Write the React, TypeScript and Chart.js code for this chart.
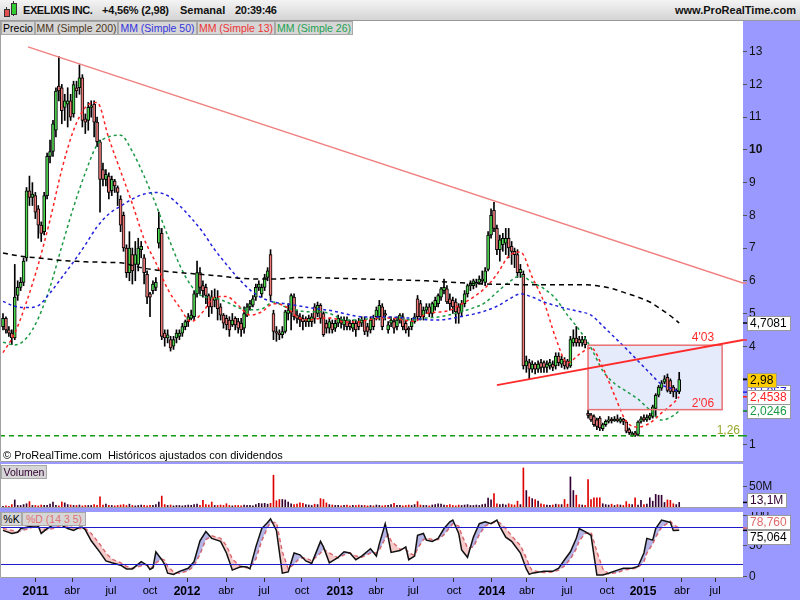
import React, { useEffect, useRef } from 'react';
import { Chart, registerables } from 'chart.js';
Chart.register(...registerables);

const FONT = 'Arial, "Liberation Sans", Helvetica, sans-serif';

// weekly candles [open, high, low, close], week 0 = mid Oct 2010
const candles: number[][] = [
  [4.6,5.0,4.5,4.85],[4.85,4.9,4.4,4.5],[4.5,4.6,4.3,4.4],[4.4,4.5,4.05,4.25],[4.25,6.5,4.2,5.5],
  [5.55,6.0,5.4,5.8],[5.8,6.1,5.7,5.95],[5.95,6.7,5.85,6.6],[6.7,8.85,6.6,8.75],[8.75,9.2,8.3,8.55],
  [8.55,9.0,8.3,8.65],[8.6,8.7,7.9,8.1],[8.2,8.3,7.3,7.7],[7.7,7.8,7.2,7.45],[7.5,8.7,7.4,8.6],
  [8.6,9.9,8.5,9.8],[9.8,10.3,9.6,9.95],[9.95,10.9,9.8,10.8],[10.6,11.9,10.4,11.8],[11.95,12.85,11.5,11.8],
  [11.9,12.0,10.8,11.2],[11.3,11.7,10.9,11.5],[11.4,11.9,10.7,11.5],[11.5,11.7,10.9,11.0],[11.1,12.1,11.0,12.0],
  [11.9,12.1,11.6,11.8],[11.9,12.6,11.7,12.2],[12.2,12.3,10.7,10.9],[10.95,11.1,10.5,10.85],[10.9,11.45,10.6,11.3],
  [11.3,11.5,11.0,11.35],[11.4,11.5,10.4,10.85],[10.85,11.0,10.1,10.25],[10.25,10.3,8.1,9.1],[9.4,9.6,8.9,9.1],
  [9.1,9.4,8.9,9.25],[9.2,9.3,8.5,8.7],[8.75,9.2,8.6,9.1],[9.05,9.1,8.7,8.9],[8.85,8.9,8.3,8.7],
  [8.5,8.6,7.5,7.7],[8.0,8.1,6.9,7.0],[7.0,7.1,6.1,6.25],[6.25,7.5,6.0,7.0],[6.8,7.0,5.9,6.3],
  [6.5,7.2,6.0,6.8],[6.5,7.3,6.3,7.0],[6.95,7.2,6.7,7.05],[6.7,6.8,5.9,6.25],[6.2,6.3,5.3,5.5],
  [5.6,5.65,4.9,5.5],[5.7,6.0,5.6,5.9],[5.8,6.1,5.7,5.95],[7.15,8.1,7.0,7.6],[7.45,7.6,4.2,4.3],
  [4.4,4.5,4.0,4.25],[4.25,4.5,4.1,4.35],[4.2,4.3,3.85,3.95],[4.0,4.3,3.9,4.2],[4.25,4.5,4.1,4.4],
  [4.3,4.5,4.2,4.4],[4.4,4.7,4.3,4.6],[4.6,4.8,4.5,4.75],[4.75,5.0,4.6,4.9],[4.85,5.1,4.8,4.95],
  [4.9,5.7,4.8,5.6],[5.6,6.6,5.5,6.25],[6.25,6.4,5.6,5.8],[5.85,6.0,5.5,5.7],[5.8,5.9,5.3,5.55],
  [5.55,5.6,4.9,5.2],[5.5,5.7,5.0,5.2],[5.4,5.75,5.2,5.5],[5.45,5.7,4.8,5.15],[5.2,5.3,4.8,4.95],
  [4.95,5.0,4.55,4.7],[4.85,4.95,4.5,4.65],[4.8,4.9,4.3,4.5],[4.65,5.0,4.6,4.8],[4.85,4.9,4.5,4.65],
  [4.75,4.85,4.4,4.55],[4.7,4.85,4.3,4.5],[4.55,5.2,4.4,5.0],[4.95,5.3,4.9,5.2],[5.2,5.4,5.1,5.3],
  [5.25,5.55,5.2,5.45],[5.5,5.9,5.4,5.8],[5.8,6.0,5.7,5.9],[5.6,5.9,5.5,5.8],[5.8,6.2,5.7,6.1],
  [6.1,6.4,6.0,6.3],[6.8,6.95,5.4,5.55],[5.0,5.1,4.2,4.45],[4.45,4.6,4.15,4.4],[4.4,4.5,4.2,4.35],
  [4.35,4.6,4.25,4.45],[4.45,5.1,4.4,5.05],[5.0,5.3,4.8,5.1],[5.05,5.6,4.5,5.55],[5.5,5.6,4.8,4.9],
  [4.95,5.1,4.7,4.85],[4.9,5.0,4.6,4.8],[4.85,4.95,4.5,4.75],[4.75,4.9,4.6,4.8],[4.75,4.95,4.6,4.85],
  [4.75,5.0,4.6,4.9],[5.2,5.3,4.7,4.85],[5.0,5.35,4.9,5.25],[5.25,5.3,4.7,4.85],[5.0,5.05,4.3,4.35],
  [4.7,4.8,4.4,4.55],[4.55,4.85,4.4,4.75],[4.7,4.8,4.4,4.5],[4.55,4.8,4.45,4.7],[4.7,4.95,4.6,4.85],
  [4.8,4.9,4.55,4.7],[4.65,4.9,4.5,4.8],[4.8,4.9,4.5,4.6],[4.7,4.8,4.5,4.6],[4.55,4.8,4.45,4.7],
  [4.7,4.8,4.3,4.5],[4.75,4.85,4.5,4.6],[4.7,4.9,4.6,4.8],[4.8,4.9,4.35,4.45],[4.6,4.7,4.3,4.45],
  [4.5,4.9,4.4,4.8],[4.85,4.95,4.5,4.6],[4.9,5.2,4.8,5.1],[4.9,5.4,4.8,5.25],[5.2,5.3,4.5,4.6],
  [5.0,5.1,4.8,4.95],[4.5,4.75,4.4,4.65],[4.7,4.9,4.6,4.8],[4.75,4.85,4.4,4.55],[4.6,4.9,4.5,4.8],
  [4.8,5.0,4.7,4.95],[4.9,5.0,4.5,4.6],[4.7,4.8,4.4,4.5],[4.55,4.6,4.3,4.5],[4.6,4.85,4.5,4.75],
  [4.75,5.0,4.7,4.9],[5.45,5.55,4.8,4.9],[5.3,5.4,4.8,4.9],[4.9,5.2,4.8,5.1],[5.1,5.3,5.0,5.2],
  [5.2,5.3,4.9,5.0],[5.0,5.35,4.9,5.3],[5.2,5.5,5.1,5.4],[5.3,5.6,5.2,5.55],[5.5,5.8,5.4,5.75],
  [5.7,6.05,5.6,5.8],[5.75,5.85,5.3,5.35],[5.45,5.6,5.1,5.3],[5.4,5.5,5.0,5.2],[5.35,5.45,4.7,5.05],
  [5.2,5.3,4.7,5.0],[5.05,5.4,4.9,5.3],[5.3,5.7,5.2,5.6],[5.6,5.9,5.5,5.85],[5.85,6.0,5.7,5.9],
  [5.85,6.05,5.75,6.0],[5.9,6.05,5.8,5.95],[5.95,6.15,5.9,6.05],[6.0,6.3,5.9,6.05],[5.95,6.4,5.85,6.3],
  [6.35,7.5,6.3,7.4],[7.4,8.2,7.3,8.0],[8.15,8.4,7.5,7.6],[7.6,7.7,6.8,6.95],[6.95,7.4,6.6,7.25],
  [7.1,7.45,6.9,7.3],[7.15,7.6,6.8,7.3],[7.3,7.6,6.7,7.0],[7.05,7.2,6.5,6.9],[6.9,7.0,6.4,6.8],
  [6.8,6.95,6.1,6.25],[6.25,6.5,6.1,6.35],[6.2,6.3,3.3,3.4],[3.4,3.7,3.2,3.55],[3.5,3.6,3.0,3.3],
  [3.3,3.55,3.2,3.45],[3.45,3.5,3.15,3.3],[3.3,3.55,3.2,3.45],[3.5,3.6,3.2,3.35],[3.5,3.55,3.2,3.35],
  [3.35,3.55,3.2,3.45],[3.4,3.6,3.3,3.5],[3.45,3.55,3.25,3.35],[3.4,3.8,3.3,3.7],[3.7,3.8,3.4,3.5],
  [3.45,3.7,3.35,3.6],[3.55,3.65,3.3,3.4],[3.55,3.6,3.3,3.35],[3.4,4.3,3.35,4.2],[4.1,4.5,4.0,4.25],
  [4.25,4.6,4.0,4.1],[4.2,4.3,4.0,4.1],[4.1,4.3,4.0,4.2],[4.2,4.3,3.95,4.05],[1.95,2.05,1.8,1.88],
  [1.9,1.95,1.7,1.75],[1.85,1.9,1.55,1.6],[1.75,1.8,1.45,1.55],[1.8,1.85,1.42,1.5],[1.48,1.65,1.42,1.6],
  [1.6,1.75,1.55,1.7],[1.7,1.85,1.65,1.75],[1.77,1.82,1.65,1.72],[1.72,1.85,1.7,1.77],[1.78,1.9,1.68,1.72],
  [1.7,1.82,1.65,1.78],[1.77,1.8,1.6,1.7],[1.68,1.72,1.35,1.4],[1.45,1.5,1.3,1.36],[1.28,1.38,1.24,1.34],
  [1.35,1.4,1.24,1.27],[1.3,1.72,1.26,1.68],[1.7,1.85,1.65,1.78],[1.82,1.9,1.7,1.75],[1.75,1.9,1.7,1.82],
  [1.8,1.95,1.75,1.88],[1.85,2.2,1.8,2.15],[2.1,2.55,1.85,2.5],[2.5,2.8,2.45,2.75],[2.72,2.95,2.65,2.88],
  [2.9,3.1,2.85,3.0],[3.05,3.15,2.6,2.65],[2.95,3.0,2.55,2.62],[2.75,2.8,2.45,2.6],[2.6,2.7,2.4,2.65],
  [2.62,3.2,2.55,2.98]
];

// weekly volume, millions
const volumes: number[] = [
  4,5,4,8,19,6,6,8,10,15, 6,6,5,7,6,6,9,14,6,5, 14,12,8,7,6,6,7,5,6,6, 6,8,6,26,7,9,6,6,5,6,
  7,8,6,9,6,5,6,7,6,5, 6,6,8,14,28,8,6,7,5,6, 6,5,6,7,6,8,9,6,18,8, 7,14,6,6,7,6,10,6,5,6,
  6,5,7,6,6,5,8,11,10,11, 9,11,77,17,20,20,19,14,10,8, 9,12,11,8,7,6,9,8,22,20, 12,8,7,6,6,5,6,7,5,6,
  6,7,6,6,5,6,5,7,6,5, 6,6,8,11,6,6,5,6,7,6, 8,15,7,6,6,5,7,8,10,9, 7,6,8,6,5,7,6,7,8,6,
  6,7,6,8,9,23,19,34,10,8, 9,7,10,8,7,16,8,94,41,26, 22,20,16,10,8,7,6,7,9,8, 8,20,9,73,41,30,8,7,6,67,
  20,24,24,24,10,8,7,9,6,8, 7,6,15,9,8,24,7,18,8,9, 24,16,32,30,30,13,19,18,10,8, 13.1
];

// moving averages sampled at these weeks
const maWeeks: number[] = [0,4,8,12,16,20,24,28,32,36,40,44,48,52,56,60,64,68,72,76,80,84,88,92,96,100,104,108,112,116,
  120,124,128,132,136,140,144,148,152,156,160,164,168,172,176,180,184,188,192,196,200,204,208,212,216,220,224,228,230];
const ma200: number[] = [6.85,6.78,6.73,6.7,6.66,6.62,6.6,6.58,6.57,6.56,6.55,6.47,6.38,6.33,6.28,6.25,6.22,6.19,6.16,6.12,
  6.08,6.06,6.05,6.05,6.07,6.1,6.1,6.09,6.08,6.07,6.06,6.05,6.04,6.03,6.02,6.01,6.0,5.98,5.96,5.94,
  5.92,5.9,5.89,5.89,5.88,5.88,5.88,5.88,5.88,5.88,5.87,5.82,5.74,5.62,5.5,5.35,5.12,4.86,4.7081];
const ma50: number[] = [5.37,5.22,5.18,5.24,5.63,6.1,6.58,7.1,7.65,8.04,8.28,8.5,8.65,8.7,8.6,8.3,7.92,7.48,6.95,6.5,
  6.08,5.72,5.48,5.35,5.3,5.24,5.18,5.13,5.08,5.0,4.92,4.89,4.89,4.89,4.87,4.85,4.81,4.8,4.84,4.91,
  4.98,5.08,5.22,5.43,5.6,5.5,5.35,5.24,5.14,5.06,4.95,4.62,4.27,3.92,3.55,3.18,2.83,2.68,2.5957];
const ma13: number[] = [3.8,4.4,5.35,6.5,7.86,9.4,10.6,11.3,11.45,10.35,9.35,8.35,7.28,6.55,5.75,5.2,4.75,5.05,5.5,5.52,
  5.25,4.95,5.05,5.3,5.22,4.9,4.8,4.85,4.86,4.74,4.74,4.8,4.86,4.86,4.8,4.76,5.0,5.04,5.1,5.29,
  5.5,5.78,6.2,6.75,6.88,6.11,5.35,4.25,3.49,3.75,3.95,3.35,2.5,1.7,1.53,1.65,1.96,2.26,2.4538];
const ma26: number[] = [4.12,4.04,4.25,4.85,5.81,7.05,8.25,9.3,10.15,10.4,10.45,9.95,9.2,8.33,7.38,6.5,5.85,5.52,5.47,5.35,
  5.18,5.11,5.14,5.35,5.2,5.1,5.05,5.05,4.97,4.8,4.8,4.83,4.86,4.86,4.82,4.8,4.86,4.89,4.96,5.06,
  5.17,5.33,5.65,5.95,6.15,5.95,5.76,5.45,4.95,4.5,3.95,3.25,2.86,2.62,2.38,2.05,1.74,1.88,2.0246];

// stochastic %K / %D (14 3 5)
const stochWeeks: number[] = [0,3,5,6,8,10,12,13,15,17,19,22,24,26,27,28,30,33,35,37,40,42,44,47,49,50,51,52,54,55,
  56,58,60,63,65,67,69,71,74,76,78,81,83,84,86,88,90,91,93,95,97,99,101,103,105,108,109,111,114,116,
  118,120,122,125,127,128,130,131,132,135,137,138,140,141,143,144,146,148,150,152,153,155,156,158,160,162,164,166,168,169,
  171,173,176,178,179,180,184,187,189,191,193,195,196,198,200,202,204,206,209,211,214,216,218,219,221,222,224,227,228,230];
const stochK: number[] = [75,70,72,78,80,82,82,70,78,84,86,78,75,80,80,76,58,39,25,22,18,12,12,24,18,11,14,40,27,19,
  5,3,8,13,24,58,73,62,57,38,10,16,15,12,48,78,88,94,75,5,7,38,35,25,21,57,48,22,31,40,
  38,27,33,45,33,53,86,64,39,42,48,27,33,67,70,59,57,62,78,89,92,70,43,31,64,86,89,86,92,81,
  64,57,38,12,3,5,8,8,13,27,40,62,78,73,67,2,2,5,10,13,13,16,38,62,59,78,92,88,75,75.064];
const stochD: number[] = [78,75,73,74,77,80,81,78,76,78,82,82,79,78,78,78,70,52,38,28,22,16,13,17,19,16,14,22,28,26,
  16,7,5,9,17,36,60,66,62,50,28,15,14,14,28,58,80,88,88,40,12,20,30,30,25,38,44,38,30,35,
  38,33,31,38,38,43,62,68,58,44,44,38,34,45,60,62,60,60,68,80,86,82,68,46,48,68,82,87,89,87,
  78,66,50,30,17,9,6,7,10,17,28,45,58,70,72,40,12,4,6,10,12,14,24,38,53,64,80,90,84,78.76];

// axis ticks
const xTickWeeks: number[] = [11.1,23.5,36.7,50,62.6,75.9,88.8,101.7,114.6,126.9,139.5,153.4,166.3,178.2,191.8,205.4,217.7,230.9,242.2];
const xTickLabels: string[] = ['2011','abr','jul','oct','2012','abr','jul','oct','2013','abr','jul','oct','2014','abr','jul','oct','2015','abr','jul'];
const priceTicks: number[] = [1,2,3,4,5,6,7,8,9,10,11,12,13];
const volTicks: number[] = [50];
const stochTicks: number[] = [0,50,100];

// drawings
const upperTrend: number[][] = [[8.5,13.15],[251.7,5.93]];
const lowerTrend: number[][] = [[168,2.81],[251.7,4.19]];
const boxWeeks: number[] = [199,244.6];
const boxPrices: number[] = [2.06,4.03];
const supportLevel = 1.26;

const X_MIN = -1.02, X_MAX = 251.7;
const GREEN = '#4fd84f', RED = '#f07a7a';

const comma = (v: number, d: number) => v.toFixed(d).replace('.', ',');

function whiteArea(c: any) {
  const { ctx, chartArea: a } = c;
  ctx.save(); ctx.fillStyle = '#ffffff';
  ctx.fillRect(a.left, a.top, a.right - a.left, a.bottom - a.top); ctx.restore();
}
function frame(c: any) {
  const { ctx, chartArea: a } = c;
  ctx.save(); ctx.strokeStyle = '#a0a0a0'; ctx.lineWidth = 1;
  ctx.beginPath();
  ctx.moveTo(a.left + 0.5, a.top); ctx.lineTo(a.left + 0.5, a.bottom - 0.5); ctx.lineTo(a.right, a.bottom - 0.5);
  ctx.stroke(); ctx.restore();
}
function axisMark(c: any, y: number, color: string) {
  const { ctx, chartArea: a } = c;
  ctx.save(); ctx.strokeStyle = color; ctx.lineWidth = 1.5;
  ctx.beginPath(); ctx.moveTo(a.right, y); ctx.lineTo(a.right + 4, y); ctx.stroke(); ctx.restore();
}
function valueBox(c: any, yc: number, text: string, color: string, bg: string) {
  const { ctx, chartArea: a } = c;
  ctx.save();
  ctx.font = '12px ' + FONT;
  const w = Math.round(ctx.measureText(text).width + 6), h = 14;
  const x = a.right + 4, top = Math.round(yc - h / 2);
  ctx.fillStyle = bg; ctx.fillRect(x, top, w, h);
  ctx.strokeStyle = '#9a9a9a'; ctx.lineWidth = 1; ctx.strokeRect(x + 0.5, top + 0.5, w, h);
  ctx.fillStyle = color; ctx.textBaseline = 'middle'; ctx.textAlign = 'left';
  ctx.fillText(text, x + 3, top + h / 2 + 1);
  ctx.restore();
}

function yAxis(min: number, max: number, ticks: number[], fmt: (v: number) => string, boldAt?: number) {
  return {
    type: 'linear', position: 'right', min, max,
    afterFit: (s: any) => { s.width = 57; s.paddingTop = 0; s.paddingBottom = 0; },
    afterBuildTicks: (s: any) => { s.ticks = ticks.map((v) => ({ value: v })); },
    ticks: {
      autoSkip: false, padding: 2, color: '#111',
      callback: (v: any) => fmt(Number(v)),
      font: (ctx: any) => ({ family: FONT, size: 12, weight: ctx.tick && ctx.tick.value === boldAt ? 'bold' : 'normal' }),
    },
    grid: { display: true, drawOnChartArea: false, drawTicks: true, tickLength: 4, color: '#555' },
    border: { display: false },
  };
}
const hiddenX = { type: 'linear', min: X_MIN, max: X_MAX, display: false, offset: false };
const baseOpts = {
  animation: false, responsive: false, maintainAspectRatio: false, devicePixelRatio: 1, events: [],
  layout: { padding: 0, autoPadding: false },
  plugins: { legend: { display: false }, tooltip: { enabled: false } },
};

function maSet(vals: number[], color: string, dash: number[]) {
  return {
    type: 'line', data: maWeeks.map((w, k) => ({ x: w, y: vals[k] })),
    borderColor: color, borderWidth: 1.5, borderDash: dash, pointRadius: 0,
    cubicInterpolationMode: 'monotone', fill: false, order: 0,
  };
}

function makePrice(canvas: HTMLCanvasElement) {
  const plugin = {
    id: 'priceDecor',
    beforeDraw: (c: any) => whiteArea(c),
    beforeDatasetsDraw: (c: any) => {
      const { ctx, scales: { x, y } } = c;
      const x1 = x.getPixelForValue(boxWeeks[0]), x2 = x.getPixelForValue(boxWeeks[1]);
      const y1 = y.getPixelForValue(boxPrices[1]), y2 = y.getPixelForValue(boxPrices[0]);
      ctx.save(); ctx.fillStyle = 'rgba(214,222,250,0.62)'; ctx.fillRect(x1, y1, x2 - x1, y2 - y1); ctx.restore();
    },
    afterDatasetsDraw: (c: any) => {
      const { ctx, chartArea: a, scales: { x, y } } = c;
      ctx.save();
      ctx.beginPath(); ctx.rect(a.left, a.top, a.right - a.left, a.bottom - a.top); ctx.clip();
      const x1 = x.getPixelForValue(boxWeeks[0]), x2 = x.getPixelForValue(boxWeeks[1]);
      const y1 = y.getPixelForValue(boxPrices[1]), y2 = y.getPixelForValue(boxPrices[0]);
      ctx.strokeStyle = '#e87070'; ctx.lineWidth = 1.5; ctx.strokeRect(x1, y1, x2 - x1, y2 - y1);
      const ys = y.getPixelForValue(supportLevel);
      ctx.setLineDash([5, 4]); ctx.strokeStyle = '#139a13'; ctx.lineWidth = 1.5;
      ctx.beginPath(); ctx.moveTo(a.left, ys); ctx.lineTo(a.right, ys); ctx.stroke();
      ctx.setLineDash([]);
      const seg = (p: number[][], color: string, w: number) => {
        ctx.strokeStyle = color; ctx.lineWidth = w; ctx.beginPath();
        ctx.moveTo(x.getPixelForValue(p[0][0]), y.getPixelForValue(p[0][1]));
        ctx.lineTo(x.getPixelForValue(p[1][0]), y.getPixelForValue(p[1][1])); ctx.stroke();
      };
      seg(upperTrend, '#f08080', 1.5);
      seg(lowerTrend, '#ff2b2b', 1.8);
      ctx.font = '12px ' + FONT; ctx.textAlign = 'right'; ctx.textBaseline = 'alphabetic';
      ctx.fillStyle = '#ff2b2b';
      ctx.fillText(boxPrices[1].toFixed(2).replace('.', "'"), x2 - 8, y1 - 4);
      ctx.fillText(boxPrices[0].toFixed(2).replace('.', "'"), x2 - 8, y2 - 3);
      ctx.fillStyle = '#9aa82a';
      ctx.fillText(comma(supportLevel, 2), a.right - 3, ys - 2);
      ctx.restore();
    },
    afterDraw: (c: any) => {
      frame(c);
      const { scales: { y } } = c;
      const last = maWeeks.length - 1;
      axisMark(c, y.getPixelForValue(upperTrend[1][1]), '#f08080');
      axisMark(c, y.getPixelForValue(lowerTrend[1][1]), '#ff2b2b');
      axisMark(c, y.getPixelForValue(supportLevel), '#139a13');
      axisMark(c, y.getPixelForValue(ma200[last]), '#000');
      axisMark(c, y.getPixelForValue(ma50[last]), '#2222dd');
      axisMark(c, y.getPixelForValue(ma13[last]), '#ff2222');
      axisMark(c, y.getPixelForValue(ma26[last]), '#1a9a44');
      valueBox(c, y.getPixelForValue(ma200[last]), comma(ma200[last], 4), '#000', '#fff');
      valueBox(c, y.getPixelForValue(ma50[last]), comma(ma50[last], 4), '#2222dd', '#fff');
      valueBox(c, y.getPixelForValue(ma13[last]), comma(ma13[last], 4), '#ff2222', '#fff');
      valueBox(c, y.getPixelForValue(ma26[last]), comma(ma26[last], 4), '#1a9a44', '#fff');
      const lc = candles[candles.length - 1][3];
      axisMark(c, y.getPixelForValue(lc), '#000');
      valueBox(c, y.getPixelForValue(lc), comma(lc, 2), '#000', '#ffcc00');
    },
  };
  return new Chart(canvas, {
    type: 'bar',
    data: {
      datasets: [
        maSet(ma200, '#000000', [5, 4]),
        maSet(ma50, '#2222dd', [3, 3]),
        maSet(ma13, '#ff2222', [3, 3]),
        maSet(ma26, '#1a9a44', [3, 3]),
        {
          type: 'bar', data: candles.map((d, i) => ({ x: i, y: [d[0], d[3]] })),
          backgroundColor: candles.map((d) => (d[3] >= d[0] ? GREEN : RED)),
          borderColor: '#000', borderWidth: 1, borderSkipped: false, barThickness: 3, grouped: false, order: 2,
        },
        {
          type: 'bar', data: candles.map((d, i) => ({ x: i, y: [d[2], d[1]] })),
          backgroundColor: '#000', borderWidth: 0, barThickness: 1, grouped: false, order: 3,
        },
      ],
    } as any,
    options: {
      ...baseOpts,
      scales: { x: hiddenX, y: yAxis(0.46, 13.94, priceTicks, (v) => String(v), 10) },
    } as any,
    plugins: [plugin],
  });
}

function makeVolume(canvas: HTMLCanvasElement) {
  const plugin = {
    id: 'volDecor',
    beforeDraw: (c: any) => whiteArea(c),
    afterDraw: (c: any) => {
      frame(c);
      const { chartArea: a, scales: { y } } = c;
      const v = volumes[volumes.length - 1];
      const py = y.getPixelForValue(v);
      axisMark(c, py, '#000');
      valueBox(c, Math.min(py, a.bottom - 8), comma(v, 1) + 'M', '#330033', '#fff');
    },
  };
  return new Chart(canvas, {
    type: 'bar',
    data: {
      datasets: [{
        data: volumes.map((v, i) => ({ x: i, y: v })),
        backgroundColor: candles.map((d) => (d[3] >= d[0] ? '#330033' : '#e00000')),
        barThickness: 1, borderWidth: 0,
      }],
    } as any,
    options: {
      ...baseOpts,
      scales: { x: hiddenX, y: yAxis(0, 103.3, volTicks, (v) => v + 'M') },
    } as any,
    plugins: [plugin],
  });
}

function makeStoch(canvas: HTMLCanvasElement) {
  const plugin = {
    id: 'stochDecor',
    beforeDraw: (c: any) => whiteArea(c),
    afterDatasetsDraw: (c: any) => {
      const { ctx, chartArea: a, scales: { y } } = c;
      ctx.save(); ctx.strokeStyle = '#1c1ccc'; ctx.lineWidth = 1.2;
      [80, 20].forEach((lv) => {
        const py = Math.round(y.getPixelForValue(lv)) + 0.5;
        ctx.beginPath(); ctx.moveTo(a.left, py); ctx.lineTo(a.right, py); ctx.stroke();
      });
      ctx.restore();
    },
    afterDraw: (c: any) => {
      frame(c);
      const { scales: { y } } = c;
      const k = stochK[stochK.length - 1], d = stochD[stochD.length - 1];
      const pk = y.getPixelForValue(k), pd = y.getPixelForValue(d);
      axisMark(c, pk, '#000'); axisMark(c, pd, '#e06060');
      let yk = pk, yd = pd;
      if (Math.abs(pk - pd) < 15) {
        const mid = (pk + pd) / 2;
        if (d >= k) { yd = mid - 7.5; yk = mid + 7.5; } else { yk = mid - 7.5; yd = mid + 7.5; }
      }
      valueBox(c, yd, comma(d, 3), '#e06a6a', '#fff');
      valueBox(c, yk, comma(k, 3), '#000', '#fff');
    },
  };
  return new Chart(canvas, {
    type: 'line',
    data: {
      datasets: [
        {
          data: stochWeeks.map((w, i) => ({ x: w, y: stochK[i] })),
          borderColor: '#111', borderWidth: 1.5, pointRadius: 0, tension: 0,
          fill: { target: 1, above: 'rgba(120,120,210,0.55)', below: 'rgba(240,150,150,0.5)' },
        },
        {
          data: stochWeeks.map((w, i) => ({ x: w, y: stochD[i] })),
          borderColor: '#e06060', borderWidth: 1.5, borderDash: [4, 3], pointRadius: 0, tension: 0, fill: false,
        },
      ],
    } as any,
    options: {
      ...baseOpts,
      scales: {
        x: {
          type: 'linear', min: X_MIN, max: X_MAX, position: 'bottom', offset: false,
          afterFit: (s: any) => { s.height = 22; s.paddingLeft = 0; s.paddingRight = 0; },
          afterBuildTicks: (s: any) => { s.ticks = xTickWeeks.map((v) => ({ value: v })); },
          ticks: {
            autoSkip: false, maxRotation: 0, minRotation: 0, padding: 2, color: '#000',
            callback: (_v: any, i: number) => xTickLabels[i],
            font: (ctx: any) => {
              const lab = xTickLabels[ctx.index] || '';
              return lab.length === 4 ? { family: FONT, size: 12, weight: 'bold' } : { family: FONT, size: 11, weight: 'normal' };
            },
          },
          grid: { display: true, drawOnChartArea: false, drawTicks: true, tickLength: 4, color: '#333' },
          border: { display: false },
        },
        y: yAxis(-2.9, 105.1, stochTicks, (v) => String(v)),
      },
    } as any,
    plugins: [plugin],
  });
}

const btn = (left: number, top: number, width: number, color: string): React.CSSProperties => ({
  position: 'absolute', left, top, width, height: 12, lineHeight: '12px', background: '#d6d6d6',
  border: '1px solid #a8a8a8', boxSizing: 'content-box', color, fontSize: 10.5, textAlign: 'center',
  whiteSpace: 'nowrap', overflow: 'hidden',
});

export default function App() {
  const pRef = useRef<HTMLCanvasElement>(null);
  const vRef = useRef<HTMLCanvasElement>(null);
  const sRef = useRef<HTMLCanvasElement>(null);
  useEffect(() => {
    Chart.defaults.font.family = FONT;
    const charts = [makePrice(pRef.current!), makeVolume(vRef.current!), makeStoch(sRef.current!)];
    return () => charts.forEach((c) => c.destroy());
  }, []);
  const hdr: React.CSSProperties = { position: 'absolute', top: 0, lineHeight: '21px', fontSize: 11, fontWeight: 'bold', color: '#111', whiteSpace: 'nowrap' };
  return (
    <div style={{ position: 'fixed', left: 0, top: 0, width: 800, height: 600, background: '#9999ff', overflow: 'hidden', fontFamily: FONT }}>
      <div style={{ position: 'absolute', left: 0, top: 0, width: 800, height: 20, background: 'linear-gradient(#f4f4f4, #d4d4d4)', borderBottom: '1px solid #999' }}>
        <div style={{ position: 'absolute', left: 6, top: 7, width: 1, height: 10, background: '#333' }} />
        <div style={{ position: 'absolute', left: 4, top: 9, width: 4, height: 6, background: '#e05050', border: '1px solid #333' }} />
        <div style={{ position: 'absolute', left: 13, top: 1, width: 1, height: 15, background: '#333' }} />
        <div style={{ position: 'absolute', left: 11, top: 3, width: 4, height: 10, background: '#33cc33', border: '1px solid #333' }} />
        <span style={{ ...hdr, left: 23, letterSpacing: -0.4 }}>EXELIXIS INC.</span>
        <span style={{ ...hdr, left: 102, letterSpacing: -0.2 }}>+4,56% (2,98)</span>
        <span style={{ ...hdr, left: 180 }}>Semanal</span>
        <span style={{ ...hdr, left: 235, letterSpacing: -0.3 }}>20:39:46</span>
        <span style={{ ...hdr, right: 4 }}>www.ProRealTime.com</span>
      </div>
      <canvas ref={pRef} width={800} height={441} style={{ position: 'absolute', left: 0, top: 21, width: 800, height: 441 }} />
      <canvas ref={vRef} width={800} height={44} style={{ position: 'absolute', left: 0, top: 464, width: 800, height: 44 }} />
      <canvas ref={sRef} width={800} height={88} style={{ position: 'absolute', left: 0, top: 512, width: 800, height: 88 }} />
      <div style={btn(1, 21, 32, '#000')}>Precio</div>
      <div style={btn(35, 21, 81, '#4a3520')}>MM (Simple 200)</div>
      <div style={btn(118, 21, 77, '#3333dd')}>MM (Simple 50)</div>
      <div style={btn(197, 21, 76, '#ee3333')}>MM (Simple 13)</div>
      <div style={btn(275, 21, 76, '#22a050')}>MM (Simple 26)</div>
      <div style={{ position: 'absolute', left: 3, top: 449, fontSize: 11, color: '#000', whiteSpace: 'nowrap' }}>© ProRealTime.com&nbsp; Históricos ajustados con dividendos</div>
      <div style={btn(1, 465, 44, '#330033')}>Volumen</div>
      <div style={btn(1, 512, 19, '#000')}>%K</div>
      <div style={btn(22, 512, 62, '#e07070')}>%D (14 3 5)</div>
    </div>
  );
}
